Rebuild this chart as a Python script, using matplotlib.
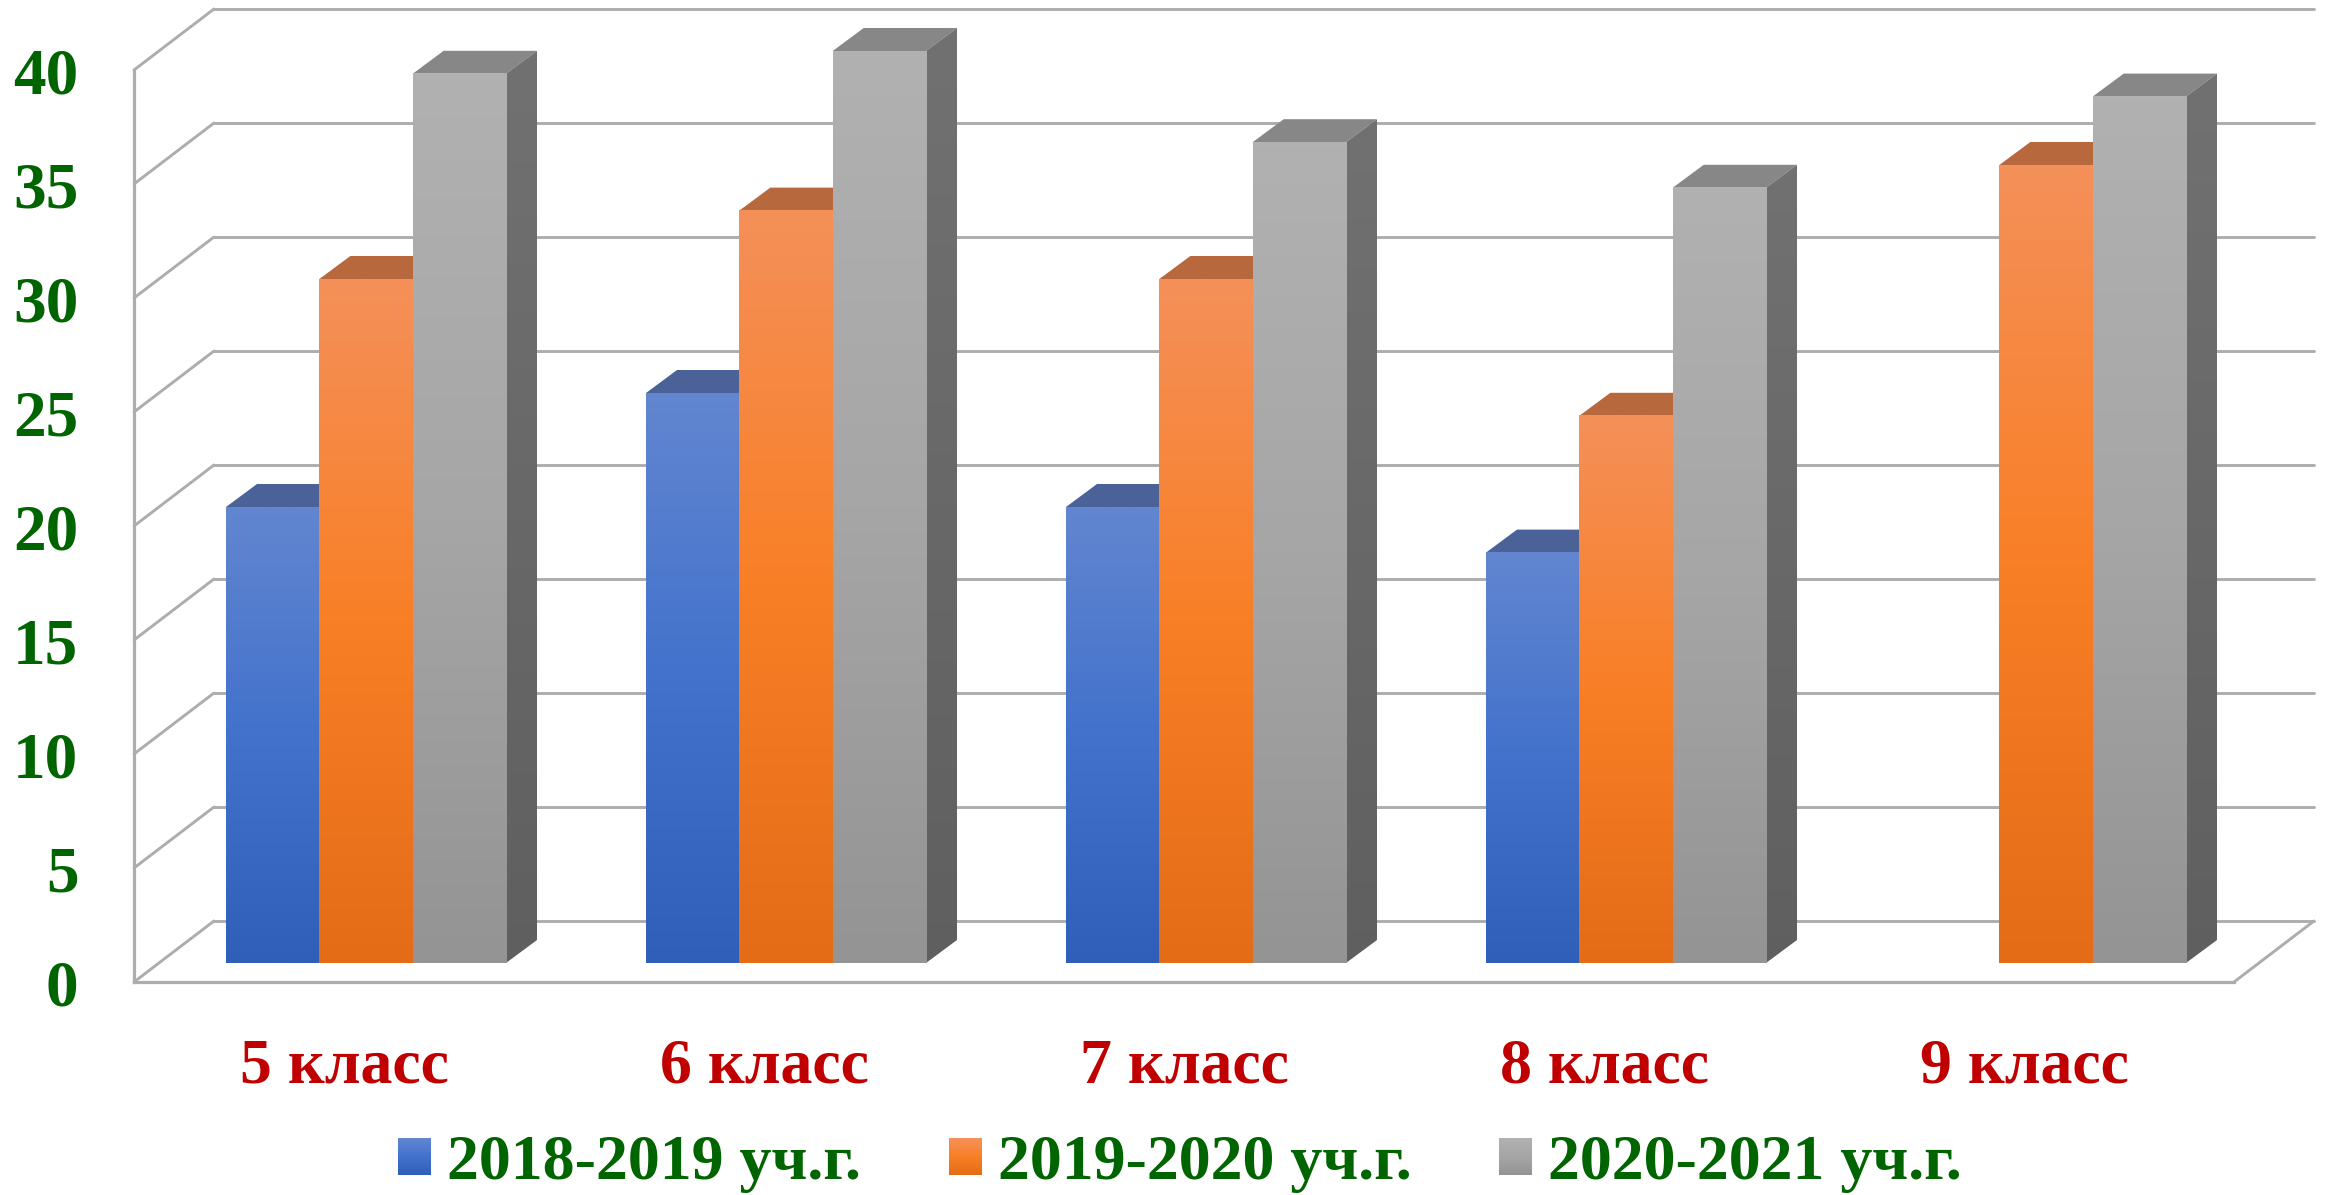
import numpy as np
import matplotlib
matplotlib.use("Agg")
import matplotlib.pyplot as plt
from matplotlib.colors import LinearSegmentedColormap
from matplotlib.lines import Line2D
from matplotlib.patches import Polygon, Rectangle, Patch
from matplotlib.legend_handler import HandlerBase
from matplotlib.transforms import Affine2D, IdentityTransform

categories = ["5 класс", "6 класс", "7 класс", "8 класс", "9 класс"]
series_names = ["2018-2019 уч.г.", "2019-2020 уч.г.", "2020-2021 уч.г."]
values_2018 = [20, 25, 20, 18, np.nan]
values_2019 = [30, 33, 30, 24, 35]
values_2020 = [39, 40, 36, 34, 38]
y_ticks = [0, 5, 10, 15, 20, 25, 30, 35, 40]

W, H = 2331, 1195
front_colors = [["#6286d0", "#4272cc", "#2f5fb8"],
                ["#f49059", "#f97f26", "#e46c17"],
                ["#b1b1b1", "#a6a6a6", "#949494"]]
side_colors = [["#3a5a9a", "#284a88"], ["#a85a28", "#8f4a18"], ["#727272", "#5e5e5e"]]
top_colors = ["#4a6298", "#b7693d", "#878787"]
GRID = "#adadad"
GREEN = "#006400"
RED = "#c00000"
FONT = "Liberation Serif"

fig = plt.figure(figsize=(W / 100, H / 100), dpi=100, facecolor="white")
# axes = front plane of the 3-D box
L, R, T, B = 134, 134 + 2100, 70, 982
ax = fig.add_axes([L / W, 1 - B / H, (R - L) / W, (B - T) / H])
ax.set_facecolor("none")
ax.set_xlim(-0.5, 4.5)
ax.set_ylim(0, 40)

back_off = (80, 61)
bar_front = (22, 19)
bar_back = (53, 42)
back_tr = ax.transData + Affine2D().translate(*back_off)
front_tr = ax.transData + Affine2D().translate(*bar_front)
rear_tr = ax.transData + Affine2D().translate(*bar_back)

# walls and grid
grid_kw = dict(color=GRID, lw=2.1, clip_on=False, solid_capstyle="round", zorder=1)
for v in y_ticks:
    a = ax.transData.transform((-0.5, v))
    b = back_tr.transform((-0.5, v))
    ax.add_line(Line2D([a[0], b[0]], [a[1], b[1]], transform=IdentityTransform(), **grid_kw))
    ax.plot([-0.5, 4.5], [v, v], transform=back_tr, **grid_kw)
a = ax.transData.transform((4.5, 0))
b = back_tr.transform((4.5, 0))
ax.add_line(Line2D([a[0], b[0]], [a[1], b[1]], transform=IdentityTransform(), **grid_kw))

for s in ("top", "right"):
    ax.spines[s].set_visible(False)
for s in ("left", "bottom"):
    ax.spines[s].set_color(GRID)
    ax.spines[s].set_linewidth(2.3)
    ax.spines[s].set_zorder(1)


def ramp(colors):
    return LinearSegmentedColormap.from_list("r", colors)


grad = np.linspace(0, 1, 256).reshape(-1, 1)
bar_w = 1 / 4.5
zo = 3
series = [values_2018, values_2019, values_2020]
for c in range(len(categories)):
    for k, vals in enumerate(series):
        v = vals[c]
        if np.isnan(v):
            continue
        x0 = c + (k - 1.5) * bar_w
        x1 = x0 + bar_w
        # top face
        top = [front_tr.transform((x0, v)), front_tr.transform((x1, v)),
               rear_tr.transform((x1, v)), rear_tr.transform((x0, v))]
        ax.add_patch(Polygon(top, closed=True, transform=IdentityTransform(),
                             fc=top_colors[k], ec="none", clip_on=False, zorder=zo))
        # side face
        side = [front_tr.transform((x1, v)), rear_tr.transform((x1, v)),
                rear_tr.transform((x1, 0)), front_tr.transform((x1, 0))]
        poly = Polygon(side, closed=True, transform=IdentityTransform(), fc="none", ec="none")
        ax.add_patch(poly)
        poly.set_clip_on(False)
        im = ax.imshow(grad, cmap=ramp(side_colors[k]), aspect="auto", origin="upper",
                       extent=(x1, x1 + bar_w / 2, -3, v + 3), transform=front_tr,
                       zorder=zo + 0.1, interpolation="bilinear")
        im.set_clip_path(poly)
        im.set_clip_box(fig.bbox)
        # front face
        ax.imshow(grad, cmap=ramp(front_colors[k]), aspect="auto", origin="upper",
                  extent=(x0, x1, 0, v), transform=front_tr, clip_on=False,
                  zorder=zo + 0.2, interpolation="bilinear")
        zo += 1

ax.set_xlim(-0.5, 4.5)
ax.set_ylim(0, 40)
ax.set_xticks(range(len(categories)))
ax.set_xticklabels(categories, fontfamily=FONT, fontweight="bold", fontsize=46, color=RED)
ax.set_yticks(y_ticks)
ax.set_yticklabels([str(t) for t in y_ticks], fontfamily=FONT, fontweight="bold", fontsize=47, color=GREEN)
ax.tick_params(axis="x", length=0, pad=41)
ax.tick_params(axis="y", length=0, pad=40)


class GradHandler(HandlerBase):
    def __init__(self, colors):
        super().__init__()
        self.colors = colors

    def create_artists(self, legend, orig, xd, yd, w, h, fs, trans):
        cm = ramp(self.colors)
        n = 24
        out = []
        for i in range(n):
            out.append(Rectangle((-xd, -yd + h * i / n), w, h / n * 1.05, fc=cm(1 - i / (n - 1)),
                                 ec="none", transform=trans))
        return out


handles = [Patch(label=n) for n in series_names]
fs = 46
leg = fig.legend(handles=handles, labels=series_names, ncol=3,
                 handler_map={h: GradHandler(front_colors[i]) for i, h in enumerate(handles)},
                 loc="lower left", bbox_to_anchor=(398 / W, 1 - 1193 / H), frameon=False,
                 prop={"family": FONT, "weight": "bold", "size": fs},
                 borderpad=0, borderaxespad=0, handlelength=0.52, handleheight=0.52,
                 handletextpad=0.25, columnspacing=1.37)
for t in leg.get_texts():
    t.set_color(GREEN)

fig.savefig("out.png", dpi=100, facecolor="white")
